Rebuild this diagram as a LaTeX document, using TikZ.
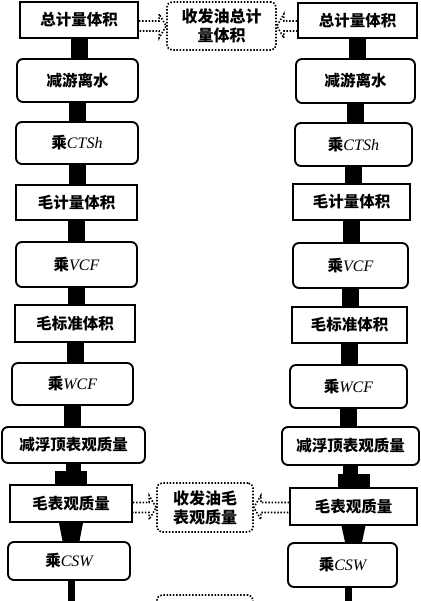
\documentclass[tikz,border=0pt]{standalone}
\usepackage{fontspec}
\setmainfont{Liberation Serif}
\newfontfamily\cjk{Noto Sans CJK SC}
\usetikzlibrary{calc}
\newcommand{\lat}[1]{{\rmfamily\mdseries\itshape\fontsize{16}{18}\selectfont #1}}
\tikzset{
  box/.style={draw, line width=1.9pt, inner sep=0pt, align=center,
    font=\cjk\bfseries\fontsize{15.5}{18}\selectfont},
  qbox/.style={box},
  obox/.style={box, rounded corners=6pt},
  dotbox/.style={draw, line width=1.7pt, dash pattern=on 1.5pt off 1.7pt,
    rounded corners=5pt, inner sep=0pt, align=center,
    font=\cjk\bfseries\fontsize{16}{19}\selectfont},
  dotarrow/.style={draw, line width=1.6pt, dash pattern=on 1.5pt off 1.7pt},
  bar/.style={line width=17pt},
}
\begin{document}
\begin{tikzpicture}[x=1pt,y=-1pt]
\clip (0,0) rectangle (420,601);
\useasboundingbox (0,0) rectangle (420,601);
\fill[white] (0,0) rectangle (420,601);

% left column
\node[qbox, minimum width=118, minimum height=36] (L1) at (79,20) {总计量体积};
\node[obox, minimum width=121, minimum height=43] (L2) at (77.5,80.5) {减游离水};
\node[obox, minimum width=122, minimum height=42] (L3) at (77,143) {乘\lat{CTSh}};
\node[qbox, minimum width=121, minimum height=35] (L4) at (76.5,202.5) {毛计量体积};
\node[obox, minimum width=121, minimum height=45] (L5) at (76.5,264.5) {乘\lat{VCF}};
\node[qbox, minimum width=120, minimum height=37] (L6) at (75,323.5) {毛标准体积};
\node[obox, minimum width=121, minimum height=42] (L7) at (72.5,384) {乘\lat{WCF}};
\node[obox, minimum width=143, minimum height=36] (L8) at (73.5,445) {减浮顶表观质量};
\node[qbox, minimum width=122, minimum height=37] (L9) at (71,503.5) {毛表观质量};
\node[obox, minimum width=122, minimum height=38] (L10) at (69,561) {乘\lat{CSW}};

% right column
\node[qbox, minimum width=119, minimum height=35] (R1) at (357.5,20.5) {总计量体积};
\node[obox, minimum width=119, minimum height=44] (R2) at (355.5,81) {减游离水};
\node[obox, minimum width=117, minimum height=43] (R3) at (353.5,144.5) {乘\lat{CTSh}};
\node[qbox, minimum width=117, minimum height=36] (R4) at (351.5,202) {毛计量体积};
\node[obox, minimum width=115, minimum height=45] (R5) at (350.5,265.5) {乘\lat{VCF}};
\node[qbox, minimum width=115, minimum height=36] (R6) at (349.5,325) {毛标准体积};
\node[obox, minimum width=117, minimum height=43] (R7) at (348.5,386.5) {乘\lat{WCF}};
\node[obox, minimum width=137, minimum height=38] (R8) at (350.5,446) {减浮顶表观质量};
\node[qbox, minimum width=127, minimum height=37] (R9) at (353.5,506.5) {毛表观质量};
\node[obox, minimum width=109, minimum height=44] (R10) at (342.5,565) {乘\lat{CSW}};

% middle dotted boxes
\node[dotbox, minimum width=109, minimum height=48] (M1) at (221.5,26) {收发油总计\\量体积};
\node[dotbox, minimum width=96, minimum height=49] (M2) at (205,507.5) {收发油毛\\表观质量};
\node[dotbox, minimum width=96, minimum height=40] (M3) at (205,615) {};

% thick connectors
\foreach \c in {L,R}{
  \foreach \i [evaluate=\i as \j using int(\i+1)] in {1,...,7}{
    \draw[bar] (\c\i.south) -- (\c\i.south |- \c\j.north);
  }
  \draw[line width=15pt] (\c8.south) -- (\c8.south |- \c9.north);
  \fill let \p1=(\c8.south), \p2=(\c9.north) in
    (\x2-16pt,\y2) rectangle (\x2+16pt,\y2+13pt);
  \fill let \p1=(\c9.south), \p2=(\c10.north) in
    (\x1-12pt,\y1) -- (\x1+12pt,\y1) -- (\x1+8.5pt,\y2) -- (\x1-8.5pt,\y2) -- cycle;
}
\coordinate (LE) at (71.5,606);
\coordinate (RE) at (348.5,606);
\draw[line width=7pt] (LE |- L10.south) -- (LE);
\draw[line width=7pt] (RE |- R10.south) -- (RE);

% dotted hollow arrows
\draw[dotarrow] let \p1=(L1.east), \p2=(M1.west) in
  (\x1,\y2+5pt) -- (\x2-7pt,\y2+5pt) -- (\x2-7pt,\y2+12pt) -- (\x2,\y2)
  -- (\x2-7pt,\y2-12pt) -- (\x2-7pt,\y2-5pt) -- (\x1,\y2-5pt);
\draw[dotarrow] let \p1=(R1.west), \p2=(M1.east) in
  (\x1,\y2+5pt) -- (\x2+7pt,\y2+5pt) -- (\x2+7pt,\y2+12pt) -- (\x2,\y2)
  -- (\x2+7pt,\y2-12pt) -- (\x2+7pt,\y2-5pt) -- (\x1,\y2-5pt);
\draw[dotarrow] let \p1=(L9.east), \p2=(M2.west) in
  (\x1,\y2+5pt) -- (\x2-7pt,\y2+5pt) -- (\x2-7pt,\y2+12pt) -- (\x2,\y2)
  -- (\x2-7pt,\y2-12pt) -- (\x2-7pt,\y2-5pt) -- (\x1,\y2-5pt);
\draw[dotarrow] let \p1=(R9.west), \p2=(M2.east) in
  (\x1,\y2+5pt) -- (\x2+7pt,\y2+5pt) -- (\x2+7pt,\y2+12pt) -- (\x2,\y2)
  -- (\x2+7pt,\y2-12pt) -- (\x2+7pt,\y2-5pt) -- (\x1,\y2-5pt);
\end{tikzpicture}
\end{document}
